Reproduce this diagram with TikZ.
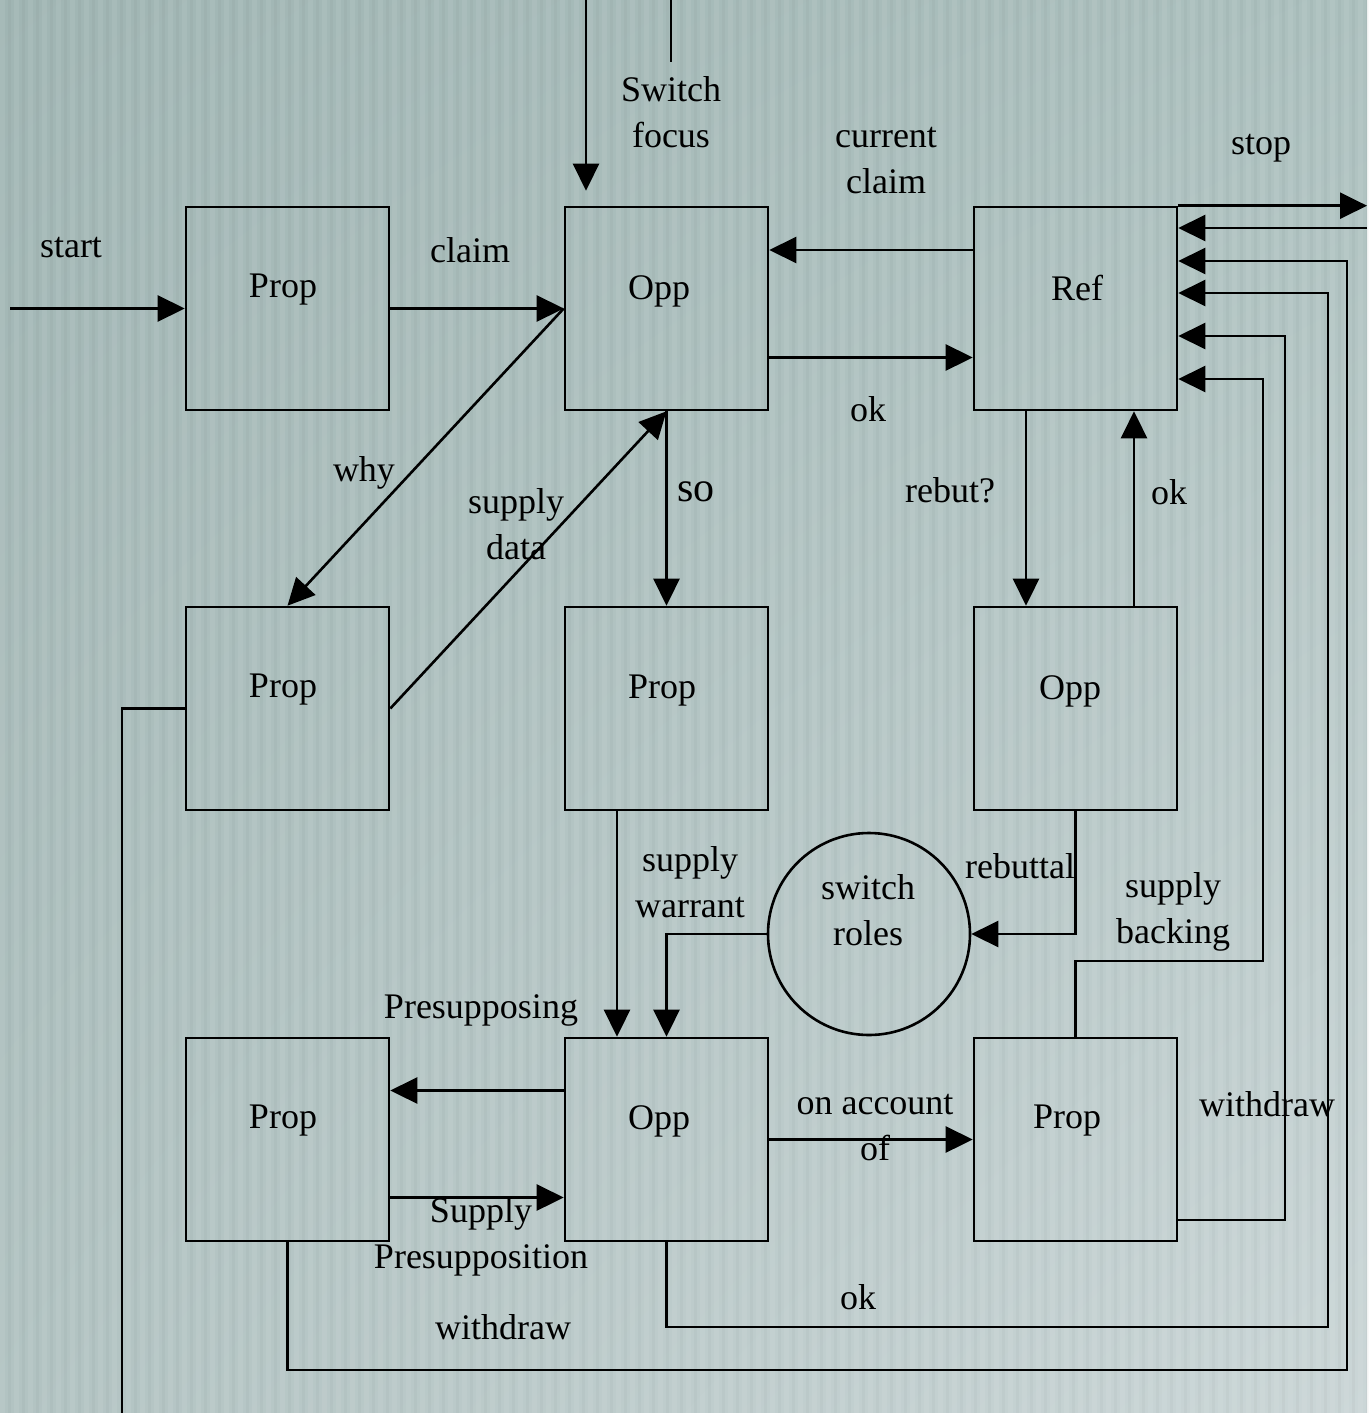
\documentclass[tikz,border=0pt]{standalone}
\usepackage{fontspec}
\setmainfont{Liberation Serif}
\usetikzlibrary{arrows.meta,calc,shadings}
\definecolor{bgul}{RGB}{160,181,179}
\definecolor{bgur}{RGB}{172,192,190}
\definecolor{bgll}{RGB}{178,195,194}
\definecolor{bglr}{RGB}{203,214,215}
\begin{document}
\begin{tikzpicture}[x=1pt,y=-1pt,
  line width=2.6pt,
  box/.style={draw, minimum width=203pt, minimum height=203pt, inner sep=0pt},
  rnd/.style={draw, circle, minimum size=202pt, inner sep=0pt},
  lbl/.style={font=\fontsize{36}{46}\selectfont, align=center, inner sep=0pt},
  arr/.style={-{Triangle[length=27pt,width=26pt]}},
]
% background
\shade[shading=bilinear interpolation, upper left=bgul, upper right=bgur,
       lower left=bgll, lower right=bglr]
  (0,0) rectangle (1367,1413);
\foreach \i in {0,...,97} {
  \fill[white, opacity=0.07] (\i*14,0) rectangle ++(5,1413);
  \fill[black, opacity=0.025] (\i*14+8,0) rectangle ++(3,1413);
}
\useasboundingbox (0,0) rectangle (1367,1413);

% boxes
\node[box] (prop1) at (287.5,308.5) {};
\node[box] (opp1)  at (666.5,308.5) {};
\node[box] (ref)   at (1075.5,308.5) {};
\node[box] (prop2) at (287.5,708.5) {};
\node[box] (prop3) at (666.5,708.5) {};
\node[box] (opp2)  at (1075.5,708.5) {};
\node[rnd] (sw)    at (869,934) {};
\node[box] (prop4) at (287.5,1139.5) {};
\node[box] (opp3)  at (666.5,1139.5) {};
\node[box] (prop5) at (1075.5,1139.5) {};

% box texts
\node[lbl] (prop1t) at (283,290) {Prop};
\node[lbl] (opp1t)  at (659,291) {Opp};
\node[lbl] (reft)   at (1077,288) {Ref};
\node[lbl] (prop2t) at (283,690) {Prop};
\node[lbl] (prop3t) at (662,691) {Prop};
\node[lbl] (opp2t)  at (1070,691) {Opp};
\node[lbl] (swt)    at (868,910) {switch\\roles};
\node[lbl] (prop4t) at (283,1121) {Prop};
\node[lbl] (opp3t)  at (659,1121) {Opp};
\node[lbl] (prop5t) at (1067,1121) {Prop};

% free ends
\coordinate (s0) at (10,308.5);
\coordinate (sfa) at (586,0);
\coordinate (sfb) at (671,0);
\coordinate (sfc) at (671,62);
\coordinate (in1) at (1367,228);
\coordinate (stopend) at (ref.north east -| in1);
\coordinate (down) at (122,1413);

% connectors
\draw[arr] (s0) -- (prop1.west);
\draw[arr] (prop1.east) -- (opp1.west);
\draw[arr] (sfa) -- ([xshift=-80.5pt,yshift=15pt]opp1.north);
\draw (sfb) -- (sfc);
\draw[arr] ([yshift=58.5pt]ref.west) -- ([yshift=58.5pt]opp1.east);
\draw[arr] ([yshift=-49pt]opp1.east) -- ([yshift=-49pt]ref.west);
\draw[arr] (opp1.west) -- (prop2.north);
\draw[arr] (prop2.east) -- (opp1.south);
\draw[arr] (opp1.south) -- (prop3.north);
\draw[arr] ([xshift=-49.5pt]ref.south) -- ([xshift=-49.5pt]opp2.north);
\draw[arr] ([xshift=58.5pt]opp2.north) -- ([xshift=58.5pt]ref.south);
\draw[arr] ([xshift=-49.5pt]prop3.south) -- ([xshift=-49.5pt]opp3.north);
\draw[arr] (opp2.south) |- (sw.east);
\draw[arr] (sw.west) -| (opp3.north);
\draw[arr] ([yshift=49pt]opp3.west) -- ([yshift=49pt]prop4.east);
\draw[arr] ([yshift=-58pt]prop4.east) -- ([yshift=-58pt]opp3.west);
\draw[arr] (opp3.east) -- (prop5.west);
\draw[arr] (prop5.north) -- (1075.5,961) -- (1263,961) -- (1263,379) -- ([yshift=-70.5pt]ref.east);
\draw[arr] ([yshift=-80.5pt]prop5.east) -- (1285,1220) -- (1285,336) -- ([yshift=-27.5pt]ref.east);
\draw[arr] (opp3.south) -- (666.5,1327) -- (1328,1327) -- (1328,293) -- ([yshift=15.5pt]ref.east);
\draw[arr] (prop4.south) -- (287.5,1370) -- (1347,1370) -- (1347,261) -- ([yshift=47.5pt]ref.east);
\draw[arr] (in1) -- ([yshift=80.5pt]ref.east);
\draw[arr] (ref.north east) -- (stopend);
\draw (prop2.west) -- (122,708.5) -- (down);

% labels
\node[lbl] (lstart) at (71,248) {start};
\node[lbl] (lclaim) at (470,250) {claim};
\node[lbl] (lsf) at (671,112) {Switch\\focus};
\node[lbl] (lcc) at (886,161) {current\\claim};
\node[lbl] (lstop) at (1261,148) {stop};
\node[lbl] (lok1) at (868,409) {ok};
\node[lbl] (lwhy) at (364,473) {why};
\node[lbl] (lsd) at (516,524) {supply\\data};
\node[lbl, font=\fontsize{42}{46}\selectfont] (lso) at (696,492) {so};
\node[lbl] (lrebut) at (950,490) {rebut?};
\node[lbl] (lok2) at (1169,492) {ok};
\node[lbl] (lsw) at (690,882) {supply\\warrant};
\node[lbl] (lreb) at (1020,866) {rebuttal};
\node[lbl] (lsb) at (1173,912) {supply\\backing};
\node[lbl] (lpre) at (481,1010) {Presupposing};
\node[lbl] (loa) at (875,1128) {on account\\of};
\node[lbl] (lwd1) at (1267,1104) {withdraw};
\node[lbl] (lsp) at (481,1237) {Supply\\Presupposition};
\node[lbl] (lok3) at (858,1297) {ok};
\node[lbl] (lwd2) at (503,1327) {withdraw};
\end{tikzpicture}
\end{document}
